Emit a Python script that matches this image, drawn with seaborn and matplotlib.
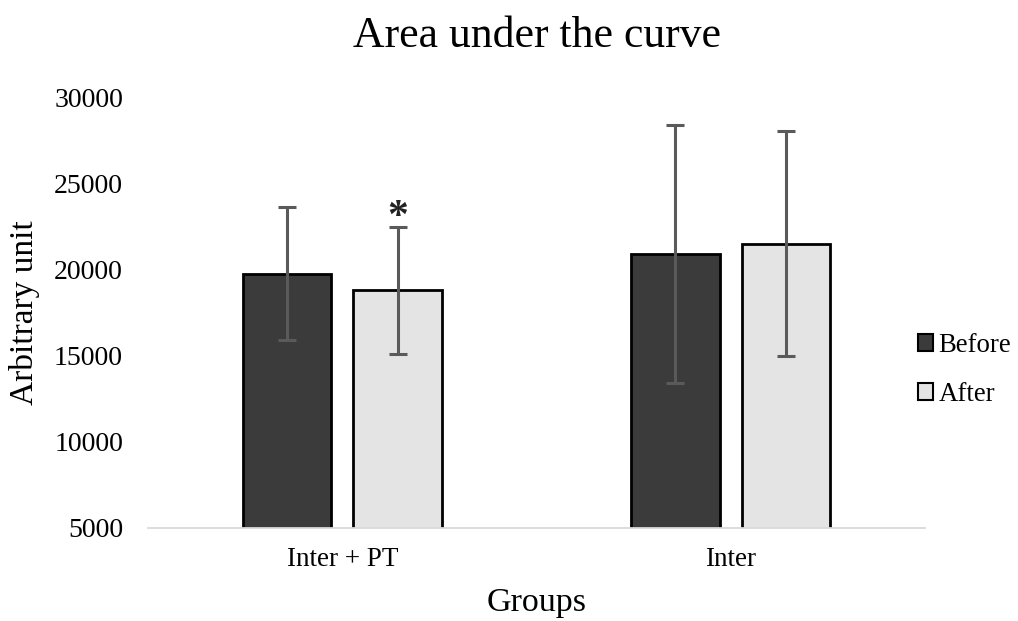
import matplotlib
matplotlib.use("Agg")
import matplotlib.pyplot as plt
import seaborn as sns
import pandas as pd
import numpy as np
from matplotlib.patches import Patch

groups = ["Inter + PT", "Inter"]
conditions = ["Before", "After"]
before_mean = [19750, 20900]
after_mean = [18780, 21500]
before_err = [3850, 7480]
after_err = [3680, 6500]

df = pd.DataFrame({
    "Group": groups * 2,
    "Condition": [conditions[0]] * 2 + [conditions[1]] * 2,
    "Value": before_mean + after_mean,
    "Err": before_err + after_err,
})

sns.set_theme(style="white")
plt.rcParams["font.family"] = ["Liberation Serif", "DejaVu Serif"]
plt.rcParams["text.color"] = "black"
plt.rcParams["axes.labelcolor"] = "black"

fig = plt.figure(figsize=(10.18, 6.21), dpi=100)
ax = fig.add_axes([0.1454, 0.1498, 0.7633, 0.694])

palette = {"Before": "#3b3b3b", "After": "#e4e4e4"}
sns.barplot(data=df, x="Group", y="Value", hue="Condition", order=groups,
            hue_order=conditions, palette=palette, width=0.57, gap=0.2,
            edgecolor="black", linewidth=2.0, errorbar=None, ax=ax,
            legend=False, saturation=1)

errs = {"Before": before_err, "After": after_err}
means = {"Before": before_mean, "After": after_mean}
for cont, cond in zip(ax.containers, conditions):
    xs = [p.get_x() + p.get_width() / 2 for p in cont]
    ax.errorbar(xs, means[cond], yerr=errs[cond], fmt="none", ecolor="#5a5a5a",
                elinewidth=2.2, capsize=6.5, capthick=2.2, zorder=5)

# significance marker above "After" bar of Inter + PT
after_bars = ax.containers[1]
p = after_bars[0]
ax.text(p.get_x() + p.get_width() / 2, after_mean[0] + after_err[0] + 500, "*",
        ha="center", va="center", fontsize=30, color="#222222", fontweight="bold")

ax.set_ylim(5000, 30000)
ax.set_yticks(np.arange(5000, 30001, 5000))
ax.set_xlim(-0.5, 1.5)
ax.tick_params(axis="y", length=0, labelsize=20, colors="black", pad=18)
ax.tick_params(axis="x", length=0, labelsize=19.5, colors="black", pad=14)
for s in ["left", "right", "top"]:
    ax.spines[s].set_visible(False)
ax.spines["bottom"].set_color("#d9d9d9")
ax.spines["bottom"].set_linewidth(1.3)

ax.set_xlabel("Groups", fontsize=24.5, labelpad=11)
ax.set_ylabel("Arbitrary unit", fontsize=24, labelpad=10)
ax.set_title("Area under the curve", fontsize=31.5, pad=36, color="black")

handles = [Patch(facecolor=palette[c], edgecolor="black", linewidth=1.5, label=c)
           for c in conditions]
fig.legend(handles=handles, loc="center left", bbox_to_anchor=(0.9018, 0.404),
           frameon=False, fontsize=19.3, handlelength=0.57, handleheight=0.57,
           handletextpad=0.2, labelspacing=0.9, borderpad=0, borderaxespad=0)

fig.savefig("out.png", dpi=100)
